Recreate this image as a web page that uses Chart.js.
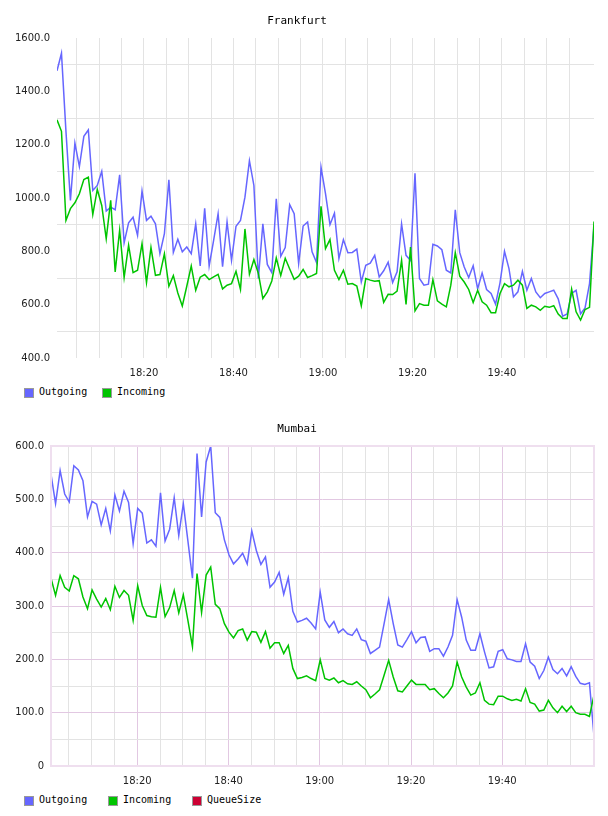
<!DOCTYPE html>
<html>
<head>
<meta charset="utf-8">
<script src="https://cdn.jsdelivr.net/npm/chart.js@4.4.1/dist/chart.umd.min.js"></script>
<style>
  html, body { margin: 0; padding: 0; background: #ffffff; }
  body { width: 608px; height: 816px; position: relative; overflow: hidden; }
  .chartbox { position: absolute; left: 0; width: 608px; height: 380px; }
  .legend { position: absolute; left: 0; height: 14px; font-family: "DejaVu Sans Mono", monospace; font-size: 10px; color: #000; }
  .legend .item { position: absolute; top: 0; height: 14px; white-space: nowrap; }
  .legend .box { position: absolute; top: 1px; left: 0; width: 8px; height: 8px; border: 1px solid #999; }
  .legend .lbl { position: absolute; left: 15px; top: -1px; line-height: 12px; }
</style>
</head>
<body>
<div class="chartbox" style="top:0px"><canvas id="c1" width="608" height="380"></canvas></div>
<div class="legend" id="lg1" style="top:387px"></div>
<div class="chartbox" style="top:408px"><canvas id="c2" width="608" height="380"></canvas></div>
<div class="legend" id="lg2" style="top:795px"></div>
<script>
// ---- time axis: minutes after 18:00, one sample per minute ----
const frankfurtStartMinute = 0.56;
const mumbaiStartMinute = 1.1;
const sampleStepMinutes = 1;
const timeGridStepMinutes = 5;
const timeLabelStepMinutes = 20;

// ---- Frankfurt ----
const frankfurtTitle = "Frankfurt";
const frankfurtOutgoing = [
  1477,1543,1250,991,1206,1118,1231,1255,1028,1047,1100,951,966,956,1087,832,907,928,860,1026,
  916,932,903,791,866,1068,796,845,798,816,791,903,745,961,745,841,941,742,910,766,
  894,916,1003,1140,1047,698,903,751,720,997,781,814,975,941,754,895,910,798,758,1115,
  1016,900,943,773,844,795,796,808,685,748,756,785,704,727,759,683,723,903,785,766,
  1093,698,673,677,826,820,806,729,719,956,795,741,702,746,660,719,657,642,602,682,
  800,735,629,648,725,654,698,648,626,642,648,654,622,557,565,642,654,565,588,679,
  897
];
const frankfurtIncoming = [
  1293,1250,916,960,982,1016,1069,1078,938,1032,972,847,991,723,879,702,823,720,729,829,
  683,814,710,713,791,669,709,644,595,669,745,654,703,713,694,704,714,659,673,679,
  725,657,884,714,769,717,623,648,689,775,709,774,734,695,707,732,702,709,717,969,
  810,844,729,694,729,677,679,670,596,698,692,688,690,609,639,638,651,766,601,816,
  577,604,598,598,694,614,602,592,673,795,707,685,657,608,654,611,598,570,570,642,
  679,667,673,692,673,586,598,592,579,594,590,596,565,548,548,658,573,542,582,590,
  912
];

// ---- Mumbai ----
const mumbaiTitle = "Mumbai";
const mumbaiOutgoing = [
  547,492,554,510,495,563,555,535,467,496,491,452,483,441,508,478,515,494,417,483,
  474,418,424,412,512,422,444,503,432,492,422,352,586,467,570,600,475,466,424,396,
  379,388,399,379,441,404,378,392,335,345,363,322,353,290,270,273,277,268,257,326,
  274,260,271,250,257,248,245,257,237,234,211,217,223,267,312,267,227,223,237,252,
  231,241,242,215,220,220,206,223,245,312,279,236,217,217,248,214,184,186,215,218,
  201,199,196,196,229,195,187,164,179,204,181,173,183,169,186,168,155,153,156,56
];
const mumbaiIncoming = [
  352,320,357,335,328,357,351,317,295,330,313,298,314,293,337,316,329,320,273,338,
  301,282,280,279,335,280,297,329,287,321,273,224,361,288,358,373,303,295,267,251,
  240,254,257,236,252,251,232,252,221,231,231,211,226,183,164,166,169,164,160,199,
  164,161,165,156,160,154,153,158,150,143,128,135,143,170,198,167,141,139,150,161,
  153,153,153,143,145,136,128,137,150,195,167,148,133,137,156,123,116,115,131,131,
  126,123,125,122,145,119,116,103,105,123,109,100,112,102,112,100,97,97,93,133
];
const mumbaiQueueSize = [
  0,0,0,0,0,0,0,0,0,0,0,0,0,0,0,0,0,0,0,0,
  0,0,0,0,0,0,0,0,0,0,0,0,0,0,0,0,0,0,0,0,
  0,0,0,0,0,0,0,0,0,0,0,0,0,0,0,0,0,0,0,0,
  0,0,0,0,0,0,0,0,0,0,0,0,0,0,0,0,0,0,0,0,
  0,0,0,0,0,0,0,0,0,0,0,0,0,0,0,0,0,0,0,0,
  0,0,0,0,0,0,0,0,0,0,0,0,0,0,0,0,0,0,0,0
];

const seriesNames = ["Outgoing", "Incoming", "QueueSize"];
const seriesColors = ["#6666ff", "#00c400", "#cc0033"];

const GRID_GREY = "#e3e3e3";
const GRID_PINK = "#e2c8e2";
const TICK_FONT = { family: "DejaVu Sans", size: 10 };

function toPoints(values, start) {
  return values.map((v, i) => ({ x: start + i * sampleStepMinutes, y: v }));
}
function isMult(v, m) {
  return Math.abs(v - Math.round(v / m) * m) < 1e-6;
}
function fmtTime(m) {
  const r = Math.round(m);
  const h = 18 + Math.floor(r / 60);
  const mm = r % 60;
  return h + ":" + (mm < 10 ? "0" + mm : mm);
}

const plotBorder = {
  id: "plotBorder",
  afterDraw(chart, args, opts) {
    if (!opts.color) return;
    const a = chart.chartArea, ctx = chart.ctx;
    ctx.save();
    ctx.strokeStyle = opts.color;
    ctx.lineWidth = opts.width || 1;
    ctx.strokeRect(a.left, a.top, a.right - a.left, a.bottom - a.top);
    ctx.restore();
  }
};

function makeChart(canvasId, cfg) {
  const datasets = cfg.series.map((vals, k) => ({
    label: seriesNames[k],
    data: toPoints(vals, cfg.start),
    borderColor: seriesColors[k],
    backgroundColor: seriesColors[k],
    borderWidth: 1.5,
    pointRadius: 0,
    tension: 0,
    fill: false,
    order: cfg.series.length - k
  }));
  const xMin = cfg.start;
  const xMax = cfg.start + (cfg.series[0].length - 1) * sampleStepMinutes;
  return new Chart(document.getElementById(canvasId), {
    type: "line",
    data: { datasets },
    plugins: [plotBorder],
    options: {
      responsive: false,
      animation: false,
      devicePixelRatio: 1,
      layout: { padding: { left: 0, right: 14, top: 0, bottom: 1 } },
      plugins: {
        legend: { display: false },
        tooltip: { enabled: false },
        title: {
          display: true,
          text: cfg.title,
          color: "#000",
          font: { family: "DejaVu Sans Mono", size: 11, weight: "normal" },
          padding: { top: 15, bottom: 9.8 }
        },
        plotBorder: { color: cfg.borderColor, width: 2 }
      },
      scales: {
        x: {
          type: "linear",
          min: xMin,
          max: xMax,
          border: { display: false },
          afterBuildTicks: (s) => {
            const out = [];
            const first = Math.ceil(s.min / timeGridStepMinutes) * timeGridStepMinutes;
            for (let v = first; v < s.max - 1; v += timeGridStepMinutes) out.push({ value: v });
            s.ticks = out;
          },
          afterFit: (s) => { s.height = 21; },
          grid: {
            drawTicks: false,
            color: (c) => {
              const v = c.tick ? c.tick.value : 0;
              return (cfg.pinkMajor && isMult(v, timeLabelStepMinutes)) ? GRID_PINK : GRID_GREY;
            },
            lineWidth: 1
          },
          ticks: {
            autoSkip: false,
            maxRotation: 0,
            padding: 9,
            color: "#222",
            font: TICK_FONT,
            callback: (v) => isMult(v, timeLabelStepMinutes) ? fmtTime(v) : ""
          }
        },
        y: {
          min: cfg.yMin,
          max: cfg.yMax,
          afterFit: (s) => { s.width = cfg.yWidth; },
          border: { display: false },
          grid: {
            drawTicks: false,
            color: cfg.yGridColor,
            lineWidth: 1
          },
          ticks: {
            stepSize: cfg.yStep,
            autoSkip: false,
            padding: 7,
            color: "#222",
            font: TICK_FONT,
            callback: cfg.yLabel
          }
        }
      }
    }
  });
}

makeChart("c1", {
  title: frankfurtTitle,
  series: [frankfurtOutgoing, frankfurtIncoming],
  start: frankfurtStartMinute,
  yMin: 400, yMax: 1600, yStep: 100, yWidth: 57,
  pinkMajor: false,
  borderColor: null,
  yGridColor: (c) => (c.tick && !isMult(c.tick.value, 200)) ? GRID_GREY : "rgba(0,0,0,0)",
  yLabel: (v) => isMult(v, 200) ? v.toFixed(1) : ""
});

makeChart("c2", {
  title: mumbaiTitle,
  series: [mumbaiOutgoing, mumbaiIncoming, mumbaiQueueSize],
  start: mumbaiStartMinute,
  yMin: 0, yMax: 600, yStep: 50, yWidth: 51,
  pinkMajor: true,
  borderColor: "#efdfef",
  yGridColor: (c) => (c.tick && isMult(c.tick.value, 100)) ? GRID_PINK : GRID_GREY,
  yLabel: (v) => (v === 0) ? "0" : (isMult(v, 100) ? v.toFixed(1) : "")
});

function buildLegend(id, count, spacing) {
  const el = document.getElementById(id);
  for (let k = 0; k < count; k++) {
    const item = document.createElement("div");
    item.className = "item";
    item.style.left = (24 + k * spacing) + "px";
    const box = document.createElement("div");
    box.className = "box";
    box.style.background = seriesColors[k];
    const lbl = document.createElement("span");
    lbl.className = "lbl";
    lbl.textContent = seriesNames[k];
    item.appendChild(box);
    item.appendChild(lbl);
    el.appendChild(item);
  }
}
buildLegend("lg1", 2, 78);
buildLegend("lg2", 3, 84);
</script>
</body>
</html>
